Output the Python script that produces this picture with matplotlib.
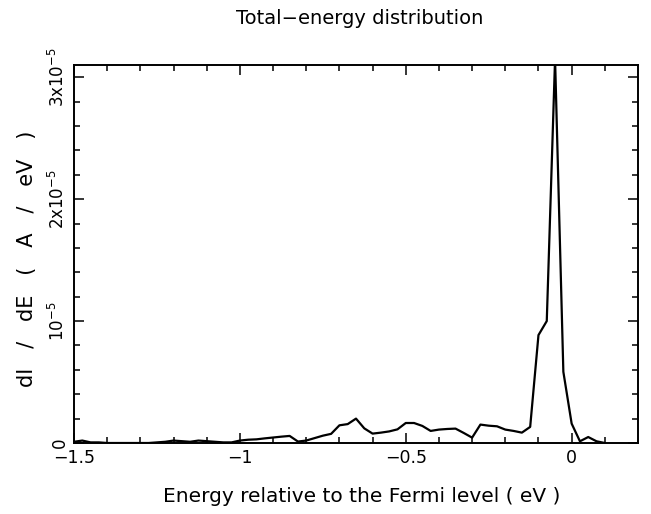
import matplotlib
matplotlib.use("Agg")
import matplotlib.pyplot as plt
import numpy as np

# energy grid (eV) and dI/dE values (units of 1e-6 A/eV)
energy = np.arange(-1.5, 0.1001, 0.025)
didE_e6 = [0.1, 0.2, 0.05, 0.05, 0.0, 0.0, 0.0, 0.0, 0.0, 0.0,
           0.05, 0.1, 0.2, 0.15, 0.1, 0.2, 0.15, 0.1, 0.05, 0.05,
           0.2, 0.27, 0.3, 0.38, 0.45, 0.52, 0.58, 0.12, 0.2, 0.4,
           0.6, 0.75, 1.45, 1.55, 2.0, 1.2, 0.77, 0.85, 0.95, 1.12,
           1.64, 1.64, 1.4, 0.99, 1.1, 1.15, 1.18, 0.82, 0.44, 1.51,
           1.42, 1.37, 1.1, 0.99, 0.85, 1.32, 8.85, 10.0, 31.5, 5.84,
           1.59, 0.14, 0.49, 0.14, 0.0]
didE = np.array(didE_e6) * 1e-6

xticks = [-1.5, -1, -0.5, 0]
xticklabels = ["\u22121.5", "\u22121", "\u22120.5", "0"]
yticks = [0, 1e-5, 2e-5, 3e-5]
yticklabels = ["0", "10$^{-5}$", "2x10$^{-5}$", "3x10$^{-5}$"]

plt.rcParams["font.family"] = ["DejaVu Sans"]

fig = plt.figure(figsize=(6.51, 5.14), dpi=100)
# axes box: x 74..638 px, y 65..443 px
ax = fig.add_axes([74/651, 1 - 443/514, (638 - 74)/651, (443 - 65)/514])

ax.plot(energy, didE, color="black", lw=1.6)

ax.set_xlim(-1.5, 0.2)
ax.set_ylim(0, 3.1e-5)
ax.set_xticks(xticks)
ax.set_xticklabels(xticklabels, fontsize=12.5)
ax.set_xticks(np.arange(-1.5, 0.2, 0.1), minor=True)
ax.set_yticks(yticks)
ax.set_yticklabels(yticklabels, fontsize=12, rotation=90, va="center")
ax.set_yticks(np.arange(0, 3.1e-5, 2e-6), minor=True)

ax.tick_params(which="both", direction="in", top=True, right=True, width=1.1)
ax.tick_params(which="major", length=7.5, pad=4)
ax.tick_params(which="minor", length=4.5)
for s in ax.spines.values():
    s.set_linewidth(1.4)

fig.text(360/651, 1 - 18/514, "Total\u2212energy distribution", ha="center", va="center", fontsize=14)
fig.text(362/651, 1 - 497/514, "Energy relative to the Fermi level ( eV )", ha="center", va="center", fontsize=14.5)
fig.text(27/651, 1 - 259/514, "dI   /   dE   (   A   /   eV   )", ha="center", va="center", rotation=90, fontsize=15)

fig.savefig("out.png", dpi=100)
